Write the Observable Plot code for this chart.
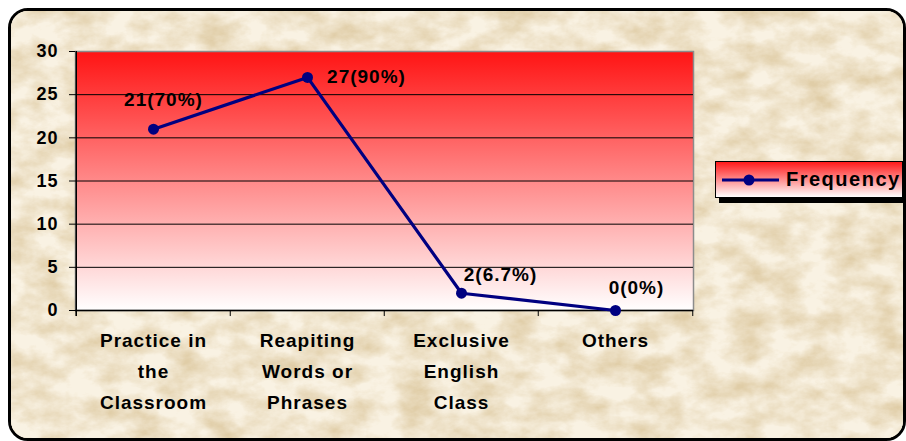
<!DOCTYPE html>
<html>
<head>
<meta charset="utf-8">
<script src="https://cdn.jsdelivr.net/npm/d3@7"></script>
<script src="https://cdn.jsdelivr.net/npm/@observablehq/plot@0.6"></script>
<style>
  body { margin: 0; background: #fff; }
  #wrap { position: relative; width: 906px; height: 441px; overflow: hidden; background: #fff;
          font-family: "Liberation Sans", Arial, sans-serif; }
  #card { position: absolute; left: 8px; top: 8px; width: 898px; height: 433px; box-sizing: border-box;
          border: 3px solid #000; border-radius: 20px; overflow: hidden; }
  #card svg { position: absolute; left: -11px; top: -11px; }
  #chart { position: absolute; left: 0; top: 0; }
  #legend { position: absolute; left: 715px; top: 161px; width: 188px; height: 37px; box-sizing: border-box;
            border: 1px solid #000; background: linear-gradient(#ff1a1a, #ffffff);
            box-shadow: 4px 5px 0 #000; display: flex; align-items: center; }
  #legend span { font-weight: bold; font-size: 20px; letter-spacing: 1.5px; color: #000; margin-left: 4px; }
</style>
</head>
<body>
<div id="wrap">
  <div id="card">
    <svg width="906" height="441">
      <filter id="paper" x="0" y="0" width="100%" height="100%">
        <feTurbulence type="fractalNoise" baseFrequency="0.03 0.045" numOctaves="5" seed="11" result="n"/>
        <feColorMatrix in="n" type="matrix" values="0 0 0 0 0.95  0 0 0 0 0.89  0 0 0 0 0.77  1.8 0 0 0 -0.25"/>
      </filter>
      <rect width="906" height="441" fill="#e0cda7"/>
      <rect width="906" height="441" filter="url(#paper)"/>
    </svg>
  </div>
  <div id="chart"></div>
  <div id="legend">
    <svg width="60" height="20" style="margin-left:6px">
      <line x1="0" y1="10" x2="57" y2="10" stroke="#000080" stroke-width="3"/>
      <circle cx="27" cy="10" r="5.5" fill="#000080"/>
    </svg>
    <span>Frequency</span>
  </div>
</div>
<script>
const categories = ["Practice in the Classroom", "Reapiting Words or Phrases", "Exclusive English Class", "Others"];
const categoryLines = ["Practice in\nthe\nClassroom", "Reapiting\nWords or\nPhrases", "Exclusive\nEnglish\nClass", "Others"];
const frequency = [21, 27, 2, 0];
const valueLabels = ["21(70%)", "27(90%)", "2(6.7%)", "0(0%)"];
const yTicks = [0, 5, 10, 15, 20, 25, 30];

const data = categories.map((c, i) => ({cat: c, value: frequency[i], label: valueLabels[i], lines: categoryLines[i]}));

const W = 906, H = 441, mL = 75, mR = 213, mT = 51, mB = 131;
const bw = (W - mL - mR) / categories.length;
const labelOffsets = [[10, -29], [59, 0], [39, -18], [21, -23]];

const chart = Plot.plot({
  width: W, height: H,
  marginLeft: mL, marginRight: mR, marginTop: mT, marginBottom: mB,
  style: {background: "transparent", fontFamily: "'Liberation Sans', Arial, sans-serif", fontWeight: "bold",
          fontSize: "18px", color: "#000", overflow: "visible", letterSpacing: "1px"},
  x: {type: "band", domain: categories, padding: 0, axis: null},
  y: {domain: [0, 30], axis: null},
  marks: [
    Plot.frame({fill: "url(#plotGrad)", stroke: "#8c8c8c", strokeWidth: 1.5}),
    Plot.ruleY(yTicks.filter(t => t > 0 && t < 30), {stroke: "#000", strokeWidth: 1}),
    Plot.ruleY([0], {stroke: "#000", strokeWidth: 1.5}),
    Plot.axisY({ticks: yTicks, label: null, tickSize: 6, tickPadding: 11, fontSize: 18, fontWeight: "bold", stroke: "#000"}),
    Plot.ruleX([categories[0]], {y1: -0.7, y2: 30, dx: -bw / 2, stroke: "#000", strokeWidth: 1.5}),
    Plot.ruleX(categories, {x: d => d, y1: -0.7, y2: 0, dx: -bw / 2, stroke: "#000"}),
    Plot.ruleX([categories[categories.length - 1]], {y1: -0.7, y2: 0, dx: bw / 2, stroke: "#000"}),
    Plot.line(data, {x: "cat", y: "value", stroke: "#000080", strokeWidth: 3.2}),
    Plot.dot(data, {x: "cat", y: "value", r: 5.5, fill: "#000080", stroke: "none"}),
    ...data.map((d, i) => Plot.text([d], {x: "cat", y: "value", text: "label", dx: labelOffsets[i][0], dy: labelOffsets[i][1],
      fontSize: 19, fontWeight: "bold", fill: "#000"})),
    Plot.text(data, {x: "cat", y: 0, text: "lines", dy: 15, lineAnchor: "top", lineHeight: 1.63,
      fontSize: 19, fontWeight: "bold", fill: "#000"})
  ]
});

const defs = d3.select(chart).insert("defs", ":first-child");
const g = defs.append("linearGradient").attr("id", "plotGrad").attr("x1", 0).attr("y1", 0).attr("x2", 0).attr("y2", 1);
g.append("stop").attr("offset", "0%").attr("stop-color", "#ff1414");
g.append("stop").attr("offset", "100%").attr("stop-color", "#ffffff");

document.getElementById("chart").appendChild(chart);
</script>
</body>
</html>
